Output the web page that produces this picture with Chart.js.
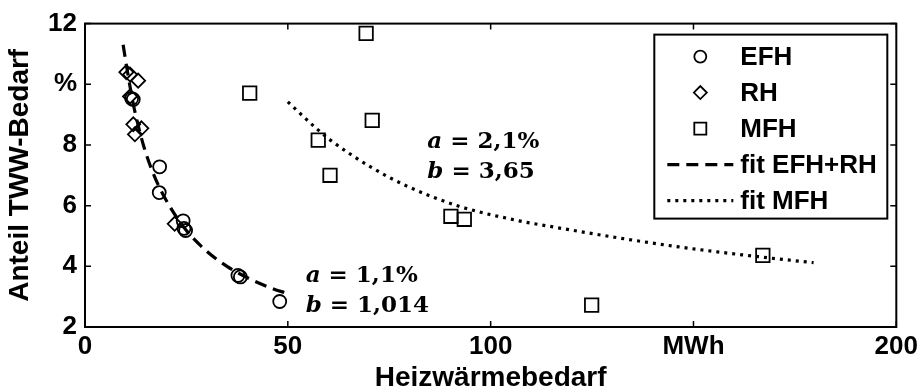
<!DOCTYPE html>
<html>
<head>
<meta charset="utf-8">
<script src="https://cdn.jsdelivr.net/npm/chart.js@4.4.1/dist/chart.umd.min.js"></script>
<style>
html, body { margin: 0; padding: 0; background: #fff; }
#wrap { width: 922px; height: 392px; }
</style>
</head>
<body>
<div id="wrap"><canvas id="twwChart" width="922" height="392"></canvas></div>
<script>
// Heizwärmebedarf (MWh) vs Anteil TWW-Bedarf (%)
const efhX = [11.5, 11.9, 18.4, 18.3, 24.2, 24.8, 24.4, 37.7, 38.3, 48.0];
const efhY = [9.53, 9.50, 7.28, 6.43, 5.50, 5.18, 5.25, 3.70, 3.65, 2.84];

const rhX = [10.2, 11.1, 13.1, 11.1, 11.9, 13.9, 12.3, 22.1];
const rhY = [10.40, 10.32, 10.12, 9.60, 8.68, 8.55, 8.35, 5.40];

const mfhX = [69.3, 40.6, 70.8, 57.5, 60.4, 90.2, 93.5, 124.9, 167.1];
const mfhY = [11.68, 9.71, 8.81, 8.16, 7.00, 5.65, 5.55, 2.72, 4.36];

// fit curves, traced points
const fitEfhX = [9.4, 10.3, 11.0, 11.9, 13.0, 14.5, 16.0, 18.0, 21.0, 25.0, 30.0, 35.0, 41.0, 46.0, 50.0];
const fitEfhY = [11.3, 10.55, 10.0, 9.35, 8.7, 7.95, 7.35, 6.7, 5.95, 5.18, 4.5, 4.0, 3.56, 3.28, 3.1];

const fitMfhX = [50, 57, 60.7, 70.1, 79.1, 92.2, 107, 113.6, 130, 146.4, 167.1, 179.6];
const fitMfhY = [9.42, 8.55, 8.14, 7.30, 6.66, 5.98, 5.50, 5.34, 4.97, 4.64, 4.30, 4.12];

// tick labels (MATLAB style: unit replaces one tick)
const xTickValues = [0, 50, 100, 150, 200];
const xTickLabels = ['0', '50', '100', 'MWh', '200'];
const yTickValues = [2, 4, 6, 8, 10, 12];
const yTickLabels = ['2', '4', '6', '8', '%', '12'];

// fit parameter texts, anchored in data units
const fitNotes = [
    { x: 84.4, y: 7.9, letter: 'a', rest: ' = 2,1%' },
    { x: 84.4, y: 6.92, letter: 'b', rest: ' = 3,65' },
    { x: 54.4, y: 3.48, letter: 'a', rest: ' = 1,1%' },
    { x: 54.4, y: 2.49, letter: 'b', rest: ' = 1,014' }
];

const pts = (xs, ys) => xs.map((x, i) => ({ x: x, y: ys[i] }));

Chart.defaults.font.family = '"Liberation Sans", Arial, sans-serif';
Chart.defaults.font.weight = 'bold';
Chart.defaults.color = '#000';

//box, inward ticks, notes and legend drawn on top
const boxPlugin = {
    id: 'boxPlugin',
    afterDraw(chart) {
        const ctx = chart.ctx;
        const a = chart.chartArea;
        const xs = chart.scales.x, ys = chart.scales.y;
        ctx.save();
        ctx.strokeStyle = '#000';
        ctx.lineWidth = 1.5;
        ctx.beginPath();
        xTickValues.forEach(v => {
            const px = xs.getPixelForValue(v);
            ctx.moveTo(px, a.bottom); ctx.lineTo(px, a.bottom - 6);
            ctx.moveTo(px, a.top); ctx.lineTo(px, a.top + 6);
        });
        yTickValues.forEach(v => {
            const py = ys.getPixelForValue(v);
            ctx.moveTo(a.left, py); ctx.lineTo(a.left + 6, py);
            ctx.moveTo(a.right, py); ctx.lineTo(a.right - 6, py);
        });
        ctx.stroke();
        ctx.lineWidth = 2;
        ctx.strokeRect(a.left, a.top, a.right - a.left, a.bottom - a.top);

        // a / b notes
        ctx.fillStyle = '#000';
        ctx.textBaseline = 'alphabetic';
        ctx.textAlign = 'left';
        fitNotes.forEach(n => {
            const px = xs.getPixelForValue(n.x);
            const py = ys.getPixelForValue(n.y);
            ctx.font = 'italic bold 23px "DejaVu Serif", serif';
            ctx.fillText(n.letter, px, py);
            const w = ctx.measureText(n.letter).width;
            ctx.font = 'bold 23px "DejaVu Serif", serif';
            ctx.fillText(n.rest, px + w, py);
        });

        // legend
        const lw = 233, lh = 184;
        const lx = a.right - 9 - lw, ly = a.top + 11;
        ctx.fillStyle = '#fff';
        ctx.fillRect(lx, ly, lw, lh);
        ctx.lineWidth = 2;
        ctx.strokeRect(lx, ly, lw, lh);
        chart.data.datasets.forEach((ds, i) => {
            const cy = ly + 22 + i * 36;
            ctx.strokeStyle = '#000';
            if (ds.showLine) {
                ctx.lineWidth = ds.borderWidth;
                ctx.setLineDash(ds.borderDash);
                ctx.beginPath();
                ctx.moveTo(lx + 13, cy);
                ctx.lineTo(lx + 79, cy);
                ctx.stroke();
                ctx.setLineDash([]);
            } else {
                ctx.lineWidth = 1.8;
                ctx.fillStyle = 'rgba(0,0,0,0)';
                Chart.helpers.drawPoint(ctx, {
                    pointStyle: ds.pointStyle,
                    radius: ds.legendRadius,
                    borderWidth: 1.8,
                    rotation: 0
                }, lx + 46, cy);
            }
            ctx.fillStyle = '#000';
            ctx.font = 'bold 26px "Liberation Sans", Arial, sans-serif';
            ctx.textBaseline = 'middle';
            ctx.fillText(ds.label, lx + 86, cy + 1);
        });
        ctx.restore();
    }
};

const ctx = document.getElementById('twwChart').getContext('2d');
const twwChart = new Chart(ctx, {
    type: 'scatter',
    data: {
        datasets: [
            {
                label: 'EFH',
                data: pts(efhX, efhY),
                pointStyle: 'circle',
                pointRadius: 6.5,
                legendRadius: 6,
                pointBorderWidth: 1.8,
                borderColor: '#000',
                backgroundColor: 'rgba(0,0,0,0)'
            },
            {
                label: 'RH',
                data: pts(rhX, rhY),
                pointStyle: 'rectRot',
                pointRadius: 7,
                legendRadius: 6.5,
                pointBorderWidth: 1.8,
                borderColor: '#000',
                backgroundColor: 'rgba(0,0,0,0)'
            },
            {
                label: 'MFH',
                data: pts(mfhX, mfhY),
                pointStyle: 'rect',
                pointRadius: 9.5,
                legendRadius: 8.5,
                pointBorderWidth: 1.8,
                borderColor: '#000',
                backgroundColor: 'rgba(0,0,0,0)'
            },
            {
                label: 'fit EFH+RH',
                data: pts(fitEfhX, fitEfhY),
                showLine: true,
                pointRadius: 0,
                borderColor: '#000',
                borderWidth: 3.2,
                borderDash: [12, 7],
                cubicInterpolationMode: 'monotone'
            },
            {
                label: 'fit MFH',
                data: pts(fitMfhX, fitMfhY),
                showLine: true,
                pointRadius: 0,
                borderColor: '#000',
                borderWidth: 3.2,
                borderDash: [3, 5],
                cubicInterpolationMode: 'monotone'
            }
        ]
    },
    options: {
        responsive: false,
        animation: false,
        devicePixelRatio: 1,
        layout: { padding: { top: 22, right: 24, left: 0, bottom: 0 } },
        plugins: {
            legend: { display: false },
            tooltip: { enabled: false }
        },
        scales: {
            x: {
                type: 'linear',
                min: 0,
                max: 200,
                afterBuildTicks: s => { s.ticks = xTickValues.map(v => ({ value: v })); },
                afterFit: s => { s.height = 65; },
                grid: { display: false, drawTicks: false },
                border: { display: false },
                ticks: {
                    padding: 4,
                    maxRotation: 0,
                    font: { size: 26, weight: 'bold' },
                    callback: v => xTickLabels[xTickValues.indexOf(v)]
                },
                title: {
                    display: true,
                    text: 'Heizwärmebedarf',
                    font: { size: 28, weight: 'bold', lineHeight: 1 },
                    padding: { top: 0, bottom: 0 }
                }
            },
            y: {
                type: 'linear',
                min: 2,
                max: 12,
                afterBuildTicks: s => { s.ticks = yTickValues.map(v => ({ value: v })); },
                afterFit: s => { s.width = 85; },
                grid: { display: false, drawTicks: false },
                border: { display: false },
                ticks: {
                    padding: 8,
                    font: { size: 26, weight: 'bold' },
                    callback: v => yTickLabels[yTickValues.indexOf(v)]
                },
                title: {
                    display: true,
                    text: 'Anteil TWW-Bedarf',
                    font: { size: 28, weight: 'bold', lineHeight: 1.2 },
                    padding: { top: 3, bottom: 0 }
                }
            }
        }
    },
    plugins: [boxPlugin]
});
</script>
</body>
</html>
